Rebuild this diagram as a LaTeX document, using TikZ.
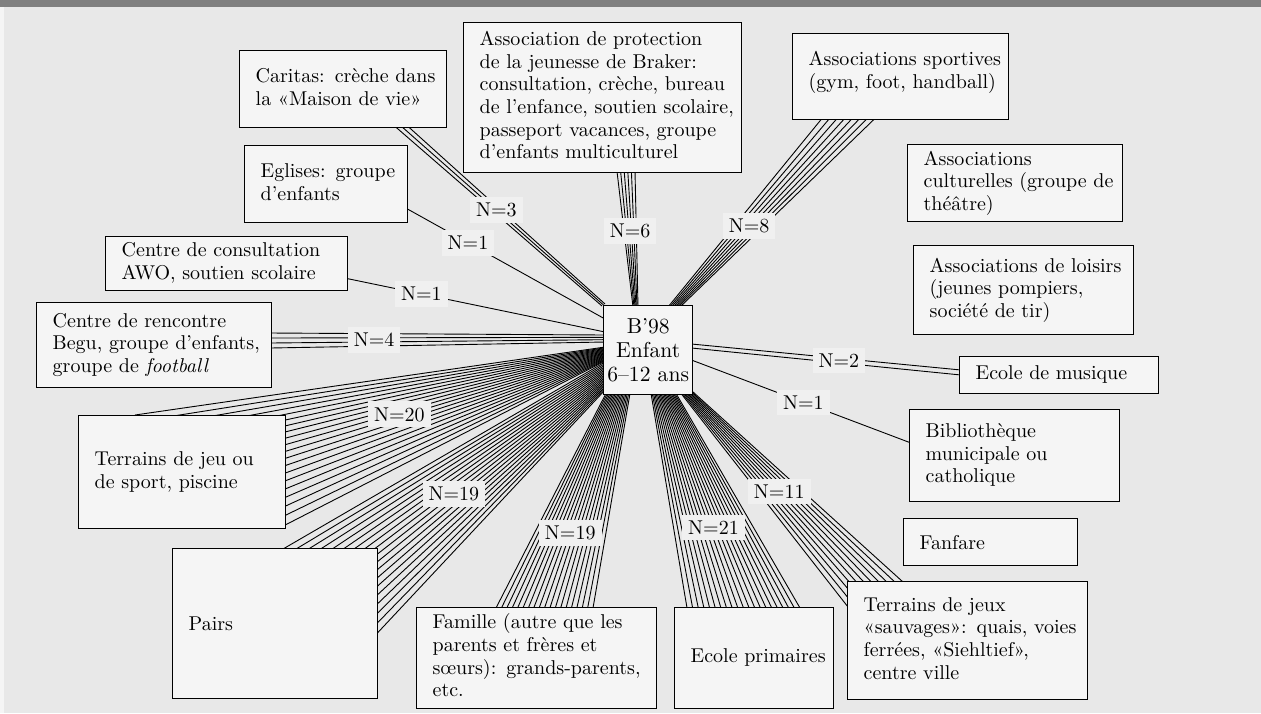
\documentclass[tikz,border=0pt]{standalone}
\usetikzlibrary{calc}
\pgfdeclarelayer{fond}
\pgfdeclarelayer{liens}
\pgfsetlayers{fond,liens,main}
\tikzset{
     boite/.style={draw, line width=0.7pt, fill=black!4, anchor=north west, align=left,
                   inner xsep=8pt, inner ysep=2pt, font=\fontsize{10}{11.3}\selectfont},
     etiquette/.style={fill=black!6, inner xsep=3pt, inner ysep=3pt, font=\fontsize{10}{11.3}\selectfont},
     lien/.style={line width=0.45pt}
     }
% lines of a box, never broken again
\newcommand\lignes[1]{\begin{tabular}{@{}l@{}}#1\end{tabular}}
% #1 = N, #2 #3 = ends at the centre, #4 #5 = ends at the box, #6 = label position
\newcommand\faisceau[6]{%
  \coordinate (fa) at #2; \coordinate (fb) at #3;
  \coordinate (fc) at #4; \coordinate (fd) at #5;
  \coordinate (fm) at ($(fa)!0.5!(fb)$); \coordinate (fn) at ($(fc)!0.5!(fd)$);
  \begin{pgfonlayer}{liens}
    \foreach \i in {1,...,#1}{
      \pgfmathsetmacro\t{(\i-1)/max(#1-1,1)}
      \draw[lien] ($(fa)!\t!(fb)$) -- ($(fc)!\t!(fd)$);
    }
  \end{pgfonlayer}
  \node[etiquette] at ($(fm)!#6!(fn)$) {N=#1};
}

\begin{document}
\begin{tikzpicture}[x=0.5pt,y=-0.5pt]
    \begin{pgfonlayer}{fond}
      \fill[black!9] (0,0) rectangle (1261,713);
      \fill[black!4] (0,7) rectangle (4,713);
      \fill[black!50] (0,0) rectangle (1261,7);
    \end{pgfonlayer}
    \useasboundingbox (0,0) rectangle (1261,713);
    % Place nodes
    \node[boite, align=center, inner xsep=1.25pt, text width=42pt, minimum height=44.5pt,
          font=\fontsize{10.8}{11.8}\selectfont] (centre) at (603,305) {B’98\\Enfant\\6–12 ans};
    \node[boite, text width=87.5pt, minimum height=38.5pt] (caritas) at (239,50) {\lignes{Caritas: crèche dans\\la «Maison de vie»}};
    \node[boite, text width=65.5pt, minimum height=38.5pt] (eglises) at (244,145) {\lignes{Eglises: groupe\\d’enfants}};
    \node[boite, text width=105pt, minimum height=27pt] (awo) at (105,236) {\lignes{Centre de consultation\\AWO, soutien scolaire}};
    \node[boite, text width=101.5pt, minimum height=42.5pt] (begu) at (36,302) {\lignes{Centre de rencontre\\Begu, groupe d’enfants,\\groupe de \emph{football}}};
    \node[boite, text width=87.5pt, minimum height=56.5pt] (terrains) at (78,415) {\lignes{Terrains de jeu ou\\de sport, piscine}};
    \node[boite, text width=86.5pt, minimum height=75pt] (pairs) at (172,548) {Pairs};
    \node[boite, text width=104pt, minimum height=50.5pt] (famille) at (416,607) {\lignes{Famille (autre que les\\parents et frères et\\sœurs): grands-parents,\\etc.}};
    \node[boite, text width=63.5pt, minimum height=50.5pt] (ecole) at (674,607) {\lignes{Ecole primaires}};
    \node[boite, text width=104pt, minimum height=59pt] (sauvages) at (847,581) {\lignes{Terrains de jeux\\«sauvages»: quais, voies\\ferrées, «Siehltief»,\\centre ville}};
    \node[boite, text width=71pt, minimum height=23.5pt] (fanfare) at (903,518) {Fanfare};
    \node[boite, text width=89pt, minimum height=46pt] (biblio) at (909,409) {\lignes{Bibliothèque\\municipale ou\\catholique}};
    \node[boite, text width=83.5pt, minimum height=18.5pt] (musique) at (959,356) {\lignes{Ecole de musique}};
    \node[boite, text width=94pt, minimum height=44.5pt] (loisirs) at (913,245) {\lignes{Associations de loisirs\\(jeunes pompiers,\\société de tir)}};
    \node[boite, text width=91.5pt, minimum height=38.5pt] (culture) at (907,144) {\lignes{Associations\\culturelles (groupe de\\théâtre)}};
    \node[boite, text width=92pt, minimum height=43pt] (sport) at (792,33) {\lignes{Associations sportives\\(gym, foot, handball)\\[4pt]}};
    \node[boite, text width=123pt, minimum height=75pt] (protection) at (463,22) {\lignes{Association de protection\\de la jeunesse de Braker:\\consultation, crèche, bureau\\de l’enfance, soutien scolaire,\\passeport vacances, groupe\\d’enfants multiculturel}};
    % Draw edges
    \faisceau{3}{($(centre.north west)+(-1,1)$)}{($(centre.north west)+(2,-1)$)}{($(caritas.south west)+(156,-2)$)}{($(caritas.south west)+(169,-2)$)}{0.53}
    \faisceau{1}{($(centre.north west)+(2,14)$)}{($(centre.north west)+(2,14)$)}{($(eglises.south east)+(-2,-15)$)}{($(eglises.south east)+(-2,-15)$)}{0.69}
    \faisceau{1}{($(centre.north west)+(2,27)$)}{($(centre.north west)+(2,27)$)}{($(awo.south east)+(-2,-13)$)}{($(awo.south east)+(-2,-13)$)}{0.71}
    \faisceau{4}{($(centre.north west)+(2,30)$)}{($(centre.north west)+(2,37)$)}{($(begu.north east)+(-2,31)$)}{($(begu.north east)+(-2,46)$)}{0.69}
    \faisceau{20}{($(centre.north west)+(2,42)$)}{($(centre.north west)+(2,56)$)}{($(terrains.north west)+(57,0)$)}{($(terrains.south east)+(-2,-4)$)}{0.52}
    \faisceau{19}{($(centre.north west)+(2,57)$)}{($(centre.north west)+(2,85)$)}{($(pairs.north west)+(111,1)$)}{($(pairs.north east)+(-1,85)$)}{0.55}
    \faisceau{19}{($(centre.south west)+(3,-2)$)}{($(centre.south west)+(27,-2)$)}{($(famille.north west)+(80,1)$)}{($(famille.north west)+(177,1)$)}{0.65}
    \faisceau{21}{($(centre.south west)+(48,-2)$)}{($(centre.south west)+(73,-2)$)}{($(ecole.north west)+(13,1)$)}{($(ecole.north west)+(126,1)$)}{0.625}
    \faisceau{11}{($(centre.south west)+(78,-2)$)}{($(centre.south east)+(-1,-4)$)}{($(sauvages.north west)+(1,26)$)}{($(sauvages.north west)+(56,1)$)}{0.49}
    \faisceau{1}{($(centre.north east)+(-2,55)$)}{($(centre.north east)+(-2,55)$)}{($(biblio.north west)+(2,34)$)}{($(biblio.north west)+(2,34)$)}{0.51}
    \faisceau{2}{($(centre.north east)+(-2,39)$)}{($(centre.north east)+(-2,43)$)}{($(musique.north west)+(2,14)$)}{($(musique.north west)+(2,19)$)}{0.547}
    \faisceau{6}{($(centre.north west)+(30,2)$)}{($(centre.north west)+(35,2)$)}{($(protection.south west)+(154,-2)$)}{($(protection.south west)+(172,-2)$)}{0.56}
    \faisceau{8}{($(centre.north west)+(65,2)$)}{($(centre.north west)+(77,2)$)}{($(sport.south west)+(30,-2)$)}{($(sport.south west)+(83,-2)$)}{0.43}
\end{tikzpicture}
\end{document}
